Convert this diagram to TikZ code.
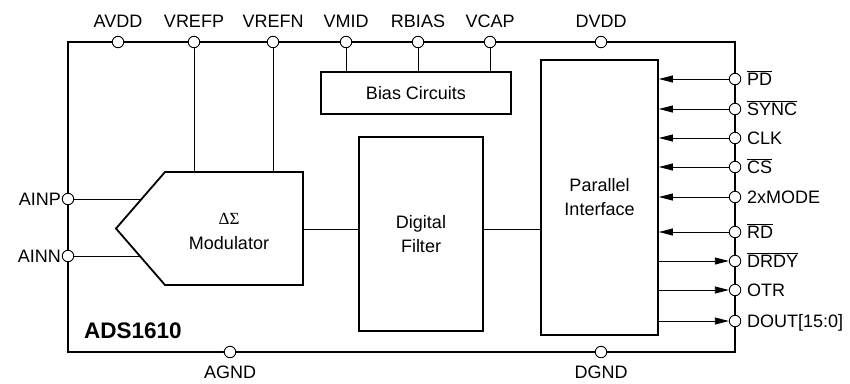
\documentclass[tikz,border=0pt]{standalone}
\usepackage{fontspec}
\setmainfont{Liberation Sans}
\newfontfamily\symfont{Liberation Serif}
\usetikzlibrary{arrows.meta}
\begin{document}
\begin{tikzpicture}[x=1pt,y=-1pt,
  pinc/.style={circle,draw,fill=white,line width=0.9pt,inner sep=0pt,minimum size=11.5pt},
  blk/.style={draw,line width=1.8pt,inner sep=0pt,font=\fontsize{18}{24}\selectfont,align=center},
  wire/.style={line width=0.9pt},
  lbl/.style={font=\fontsize{18}{20}\selectfont,inner sep=0pt},
  arr/.style={-{Triangle[length=14pt,width=7pt]}}]
\useasboundingbox (0,0) rectangle (850,383);
% frame
\draw[line width=1.8pt] (68,42) rectangle (735,352);
% blocks
\node[blk,minimum width=190pt,minimum height=42pt] (bias) at (416,93) {Bias Circuits};
\node[blk,minimum width=124pt,minimum height=194pt] (filter) at (421,234) {Digital\\Filter};
\node[blk,minimum width=117pt,minimum height=275pt] (par) at (599.5,197.5) {Parallel\\Interface};
% modulator
\coordinate (mtl) at (165,172);
\coordinate (mtr) at (303,172);
\coordinate (mbr) at (303,285);
\coordinate (mbl) at (165,285);
\coordinate (mtip) at (116,228.5);
\draw[line width=1.8pt,line join=miter] (mtl) -- (mtr) -- (mbr) -- (mbl) -- (mtip) -- cycle;
\node[inner sep=0pt,font=\fontsize{17}{19}\selectfont\symfont,anchor=base] (ds) at (229,224) {ΔΣ};
\node[inner sep=0pt,font=\fontsize{18}{20}\selectfont,anchor=base] (modtxt) at (229,249) {Modulator};
\coordinate (modout) at (303,229);
% top pins
\foreach \n/\x/\t in {avdd/118/AVDD,vrefp/194/VREFP,vrefn/273/VREFN,vmid/346/VMID,rbias/418/RBIAS,vcap/490/VCAP,dvdd/601/DVDD}{
  \node[pinc] (\n) at (\x,42) {};
  \node[lbl,anchor=base] (\n-l) at (\x,27) {\t};
}
% bottom pins
\foreach \n/\x/\t in {agnd/230/AGND,dgnd/601/DGND}{
  \node[pinc] (\n) at (\x,352) {};
  \node[lbl,anchor=base] (\n-l) at (\x,378.5) {\t};
}
% left pins
\foreach \n/\y/\t in {ainp/199/AINP,ainn/256/AINN}{
  \node[pinc] (\n) at (68,\y) {};
  \node[lbl,anchor=base east] (\n-l) at (61,\y+6) {\t};
}
% right pins
\foreach \n/\y/\t in {pd/79/{$\overline{\mbox{PD}}$},sync/109/{$\overline{\mbox{SYNC}}$},clk/138/CLK,cs/167/{$\overline{\mbox{CS}}$},mode/197/2xMODE,rd/232/{$\overline{\mbox{RD}}$},drdy/261/{$\overline{\mbox{DRDY}}$},otr/290/OTR,dout/321/{DOUT[15:0]}}{
  \node[pinc] (\n) at (735,\y) {};
  \node[lbl,anchor=base west] (\n-l) at (747,\y+6) {\t};
}
% wires
\draw[wire] (vrefp.south) -- (vrefp |- mtl);
\draw[wire] (vrefn.south) -- (vrefn |- mtl);
\draw[wire] (vmid.south) -- (vmid |- bias.north);
\draw[wire] (rbias.south) -- (rbias |- bias.north);
\draw[wire] (vcap.south) -- (vcap |- bias.north);
\draw[wire] (ainp.east) -- (141.6,199);
\draw[wire] (ainn.east) -- (139.8,256);
\draw[wire] (modout) -- (filter.west |- modout);
\draw[wire] (filter.east |- modout) -- (par.west |- modout);
\foreach \n in {pd,sync,clk,cs,mode,rd}{
  \draw[wire,arr] (\n.west) -- (par.east |- \n);
}
\foreach \n in {drdy,otr,dout}{
  \draw[wire,arr] (par.east |- \n) -- (\n.west);
}
% part name
\node[inner sep=0pt,anchor=base west,font=\fontsize{22.5}{24}\selectfont\bfseries] (part) at (84,338) {ADS1610};
\end{tikzpicture}
\end{document}
